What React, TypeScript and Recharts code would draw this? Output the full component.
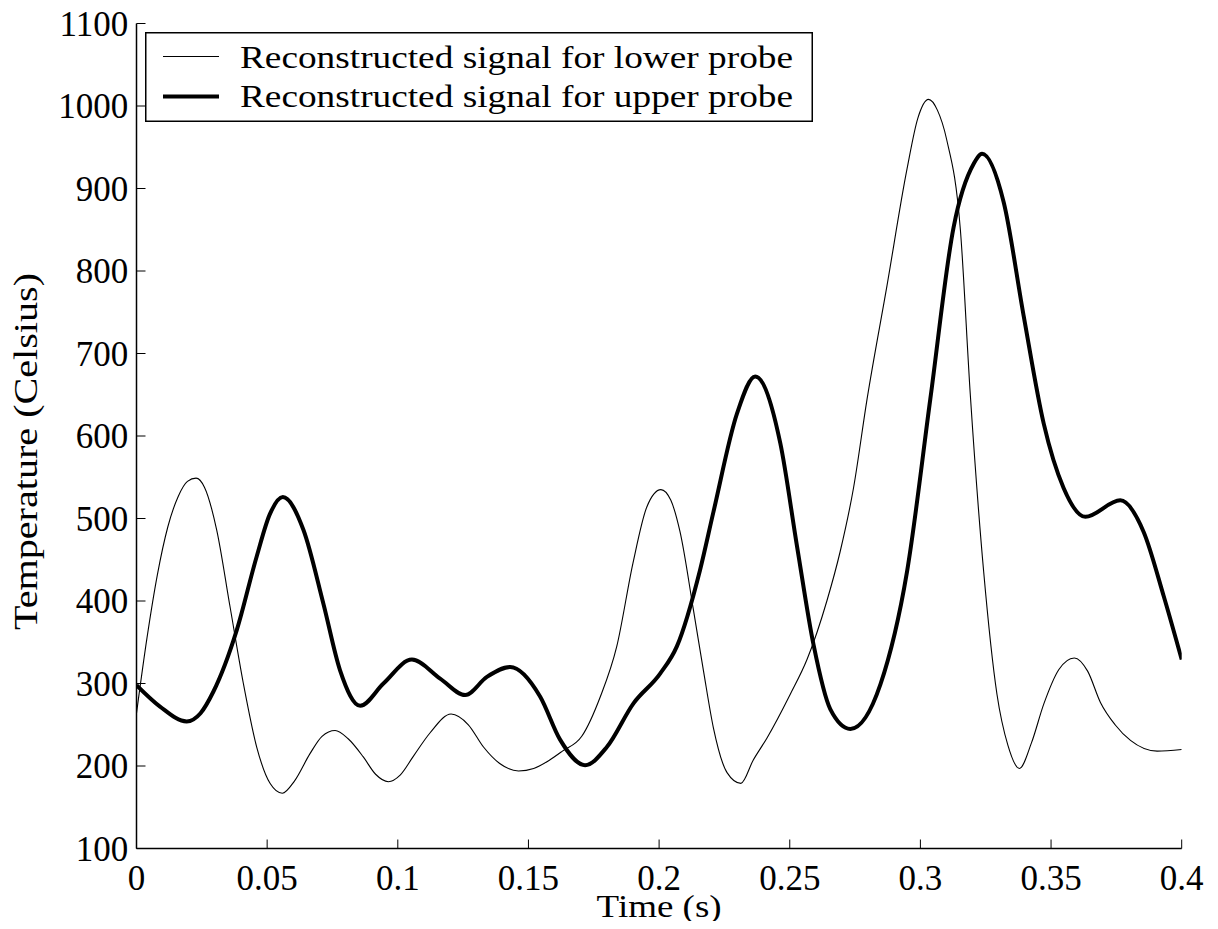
import React from "react";
import { LineChart, Line, XAxis, YAxis, Legend, Label } from "recharts";

// time (s) / temperature (Celsius)
const lowerTime = [
    0, 0.004, 0.008, 0.012, 0.016, 0.0195, 0.0228, 0.026, 0.0307, 0.0358,
    0.0409, 0.046, 0.0511, 0.0558, 0.0605, 0.0664, 0.071, 0.076, 0.081, 0.0868,
    0.0915, 0.0964, 0.1009, 0.106, 0.1123, 0.1204, 0.127, 0.1328, 0.139, 0.1462,
    0.152, 0.158, 0.163, 0.1704, 0.1775, 0.1838, 0.19, 0.1953, 0.2007, 0.2045,
    0.208, 0.2132, 0.217, 0.2208, 0.226, 0.2313, 0.236, 0.2413, 0.2502, 0.2566,
    0.2642, 0.2693, 0.2744, 0.2796, 0.2872, 0.2949, 0.299, 0.3031, 0.3065, 0.31,
    0.3153, 0.3191, 0.3242, 0.3293, 0.3335, 0.3379, 0.3425, 0.3472, 0.353, 0.3589,
    0.364, 0.3689, 0.3745, 0.3804, 0.3906, 0.4
];
const lowerTemp = [
    264, 355, 432, 490, 527, 545, 549, 538, 486, 393,
    300, 223, 179, 167, 182, 215, 236, 243, 233, 211,
    190, 181, 189, 212, 240, 263, 250, 223, 203, 194,
    197, 207, 218, 236, 284, 345, 446, 514, 535, 522,
    484, 388, 315, 246, 192, 179, 207, 234, 287, 329,
    400, 460, 537, 645, 782, 924, 985, 1008, 995, 960,
    850, 650, 436, 287, 225, 197, 228, 275, 317, 331,
    315, 277, 250, 231, 218, 220
];

const upperTime = [
    0, 0.009, 0.0192, 0.0245, 0.0294, 0.0384, 0.046, 0.051, 0.056, 0.0639,
    0.0715, 0.0779, 0.0856, 0.0945, 0.1054, 0.1162, 0.1258, 0.1341, 0.143, 0.1545,
    0.1621, 0.1717, 0.18, 0.1902, 0.2004, 0.2068, 0.2157, 0.2208, 0.2298, 0.2368,
    0.2464, 0.2528, 0.2591, 0.2655, 0.2732, 0.2847, 0.2949, 0.3038, 0.3127, 0.3204,
    0.3236, 0.3319, 0.3395, 0.3472, 0.3548, 0.3631, 0.3765, 0.3854, 0.3931, 0.4
];
const upperTemp = [
    298, 272, 254, 264, 290, 365, 454, 505, 526, 486,
    397, 316, 273, 300, 329, 306, 286, 308, 320, 284,
    232, 201, 223, 276, 312, 345, 438, 508, 627, 672,
    591, 466, 347, 269, 245, 299, 436, 645, 853, 930,
    942, 883, 746, 615, 537, 502, 522, 484, 406, 329
];

const timeTicks = [0, 0.05, 0.1, 0.15, 0.2, 0.25, 0.3, 0.35, 0.4];
const tempTicks = [100, 200, 300, 400, 500, 600, 700, 800, 900, 1000, 1100];

const lowerName = "Reconstructed signal for lower probe";
const upperName = "Reconstructed signal for upper probe";

const lowerData = lowerTime.map((t, i) => ({ t, temp: lowerTemp[i] }));
const upperData = upperTime.map((t, i) => ({ t, temp: upperTemp[i] }));

const FONT = "Liberation Serif";
const lineWidths = { [lowerName]: 1.1, [upperName]: 4 };

const renderLegend = (props) => {
    const items = props.payload || [];
    return (
        <svg width={668} height={90} style={{ display: "block" }}>
            <rect x={0.75} y={0.75} width={666.5} height={88.5} fill="#fff" stroke="#000" strokeWidth={1.5} />
            {items.map((entry, i) => (
                <g key={entry.value}>
                    <line x1={18} x2={74} y1={24.5 + i * 40} y2={24.5 + i * 40}
                        stroke="#000" strokeWidth={lineWidths[entry.value] || 1} />
                    <text x={95} y={36 + i * 38.5} fontSize={32} fontFamily={FONT} fill="#000"
                        textLength={553} lengthAdjust="spacingAndGlyphs">{entry.value}</text>
                </g>
            ))}
        </svg>
    );
};

const YTitle = (props) => {
    const vb = props.viewBox;
    const x = vb.x + 36.7;
    const y = vb.y + vb.height / 2 + 15.5;
    return (
        <text x={x} y={y} transform={`rotate(-90, ${x}, ${y})`} textAnchor="middle"
            fontSize={33} fontFamily={FONT} fill="#000" textLength={357} lengthAdjust="spacingAndGlyphs">
            Temperature (Celsius)
        </text>
    );
};

const XTitle = (props) => {
    const vb = props.viewBox;
    return (
        <text x={vb.x + vb.width / 2} y={vb.y + 68} textAnchor="middle"
            fontSize={32} fontFamily={FONT} fill="#000" textLength={125} lengthAdjust="spacingAndGlyphs">
            Time (s)
        </text>
    );
};

const tickStyle = { fill: "#000", fontSize: 35, fontFamily: FONT };
const axisLineStyle = { stroke: "#000", strokeWidth: 1.5 };
const tickLineStyle = { stroke: "#000", strokeWidth: 1 };

export default function App() {
    return (
        <div style={{ background: "#fff", margin: -8, width: 1218, height: 929 }}>
            <LineChart width={1218} height={929} margin={{ top: 23.5, right: 36.3, bottom: 0, left: 0 }}
                style={{ fontFamily: FONT }}>
                <XAxis xAxisId="bottom" dataKey="t" type="number" domain={[0, 0.4]} ticks={timeTicks}
                    allowDataOverflow height={80.5} tickSize={-9} tickMargin={25.3}
                    axisLine={axisLineStyle} tickLine={tickLineStyle} tick={tickStyle}
                    interval={0}>
                    <Label content={XTitle} />
                </XAxis>
                <XAxis xAxisId="top" orientation="top" dataKey="t" type="number" domain={[0, 0.4]}
                    ticks={timeTicks} allowDataOverflow height={0} tickSize={-9} tick={false}
                    axisLine={axisLineStyle} tickLine={tickLineStyle} interval={0} />
                <YAxis yAxisId="left" type="number" domain={[100, 1100]} ticks={tempTicks}
                    allowDataOverflow width={136.5} tickSize={-9} tickMargin={17.2}
                    axisLine={axisLineStyle} tickLine={tickLineStyle} tick={tickStyle} interval={0}>
                    <Label content={YTitle} />
                </YAxis>
                <YAxis yAxisId="right" orientation="right" type="number" domain={[100, 1100]}
                    ticks={tempTicks} allowDataOverflow width={0} tickSize={-9} tick={false}
                    axisLine={axisLineStyle} tickLine={tickLineStyle} interval={0} />
                <Legend layout="vertical" align="center" verticalAlign="middle"
                    wrapperStyle={{ left: 144.7, top: 32.3, width: 668, height: 90 }}
                    content={renderLegend} />
                <Line xAxisId="bottom" yAxisId="left" data={lowerData} dataKey="temp" name={lowerName}
                    type="monotone" stroke="#000" strokeWidth={1.1} dot={false} activeDot={false}
                    isAnimationActive={false} />
                <Line xAxisId="bottom" yAxisId="left" data={upperData} dataKey="temp" name={upperName}
                    type="monotone" stroke="#000" strokeWidth={4} dot={false} activeDot={false}
                    isAnimationActive={false} />
            </LineChart>
        </div>
    );
}
